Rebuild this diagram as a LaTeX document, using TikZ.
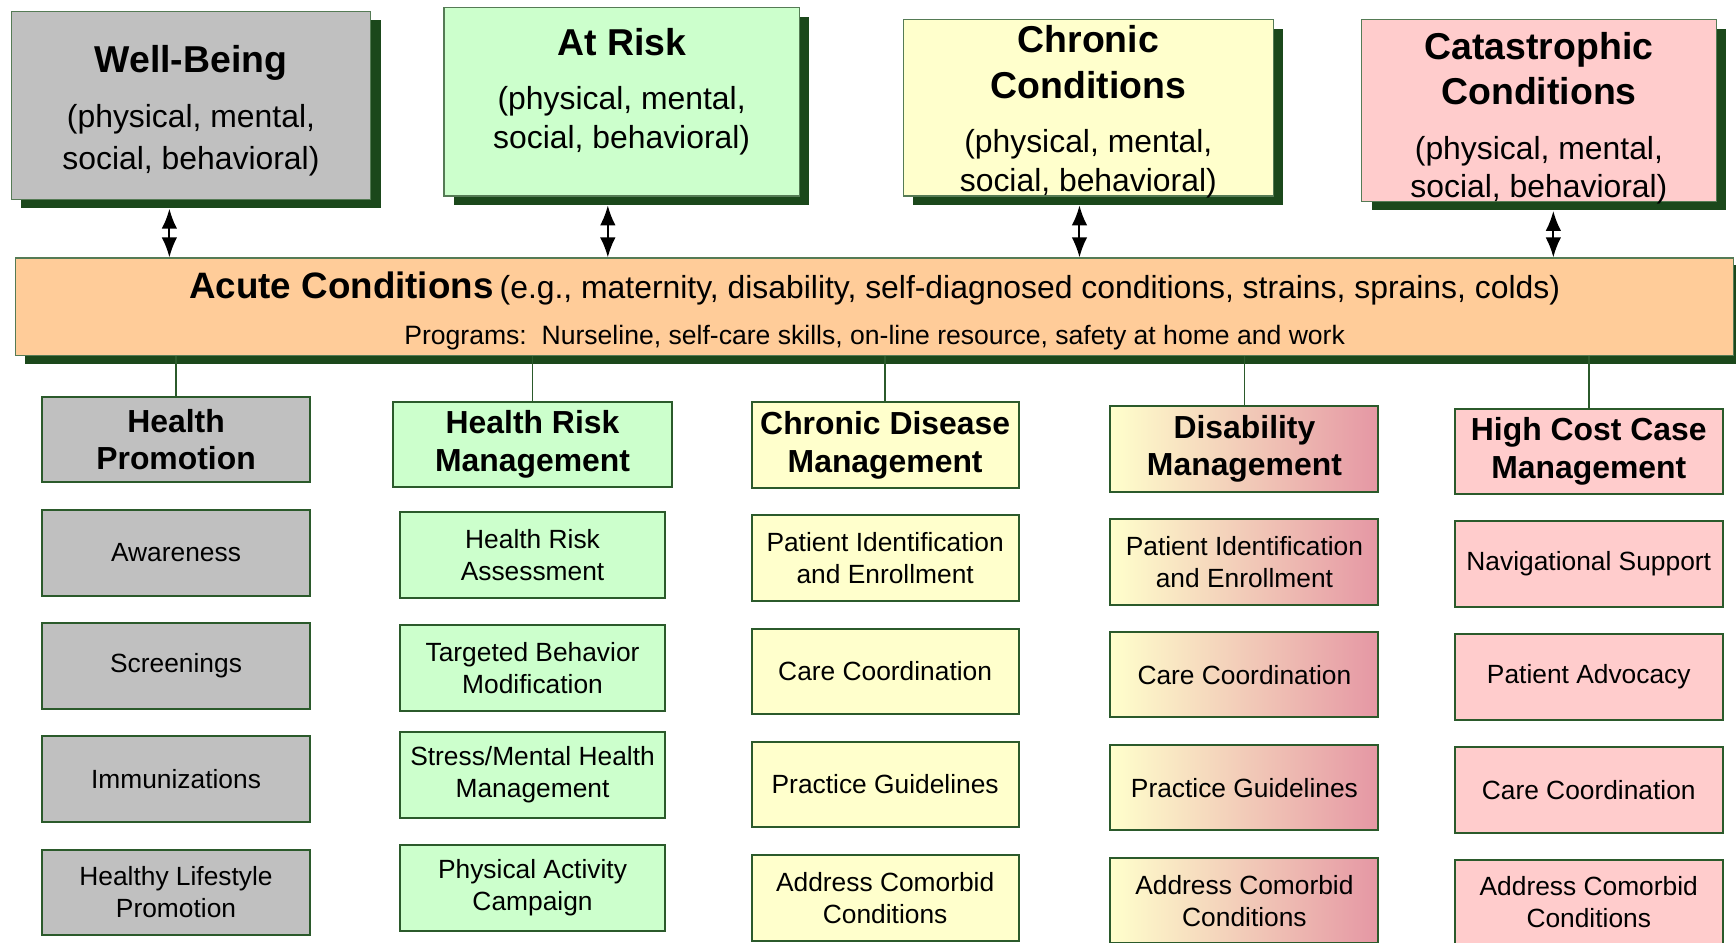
\documentclass[tikz,border=0pt]{standalone}
\usepackage{fontspec}
\setmainfont{Liberation Sans}
\usepackage{xcolor}
\usepackage{tikz}
\usetikzlibrary{arrows.meta, shadows}

\definecolor{wbgray}{HTML}{C0C0C0}
\definecolor{riskgreen}{HTML}{CCFFCC}
\definecolor{chronyellow}{HTML}{FFFFCC}
\definecolor{catpink}{HTML}{FFCCCC}
\definecolor{acutepeach}{HTML}{FFCC99}
\definecolor{disrose}{HTML}{E597A4}
\definecolor{edgegreen}{HTML}{2B5A2B}
\definecolor{shadowgreen}{HTML}{1B481B}

\newcommand{\condtitle}{\fontsize{16.9}{20}\selectfont\bfseries}

\begin{document}
\begin{tikzpicture}[x=0.5pt, y=-0.5pt,
		twoway/.style={{Latex[length=9pt, width=7pt]}-{Latex[length=9pt, width=7pt]}, line width=0.9pt},
		condbox/.style={draw=edgegreen!80, line width=0.5pt,
			drop shadow={shadow xshift=4.5pt, shadow yshift=-4pt, fill=shadowgreen, opacity=1}},
		condtext/.style={align=center, font=\fontsize{14.4}{17.5}\selectfont},
		colhead/.style={draw=edgegreen, line width=0.9pt, align=center, inner sep=0pt,
			minimum width=121pt, minimum height=38.5pt, font=\fontsize{14.4}{17}\selectfont\bfseries},
		progbox/.style={draw=edgegreen, line width=0.9pt, align=center, inner sep=0pt,
			minimum width=121pt, minimum height=38.5pt, font=\fontsize{11.9}{14.5}\selectfont},
		disgrad/.style={left color=chronyellow, right color=disrose},
		link/.style={draw=edgegreen, line width=0.7pt}]
	\useasboundingbox (0,0) rectangle (1568,851);

	% four condition levels
	\node[condbox, fill=wbgray, minimum width=162.5pt, minimum height=85pt] (wb) at (172.5,95) {};
	\node[condtext] (wb-text) at (172.5,100) {{\condtitle Well-Being}\\[7pt] (physical, mental,\\[1.5pt] social, behavioral)};
	\node[condbox, fill=riskgreen, minimum width=160.5pt, minimum height=85pt] (ar) at (561.5,92) {};
	\node[condtext] (ar-text) at (561.5,83) {{\condtitle At Risk}\\[7pt] (physical, mental,\\ social, behavioral)};
	\node[condbox, fill=chronyellow, minimum width=167pt, minimum height=79.5pt] (cc) at (983,97.5) {};
	\node[condtext] (cc-text) at (983,101) {{\condtitle Chronic}\\[3pt] {\condtitle Conditions}\\[7pt] (physical, mental,\\ social, behavioral)};
	\node[condbox, fill=catpink, minimum width=160pt, minimum height=82pt] (ca) at (1390,100) {};
	\node[condtext] (ca-text) at (1390,107) {{\condtitle Catastrophic}\\[3pt] {\condtitle Conditions}\\[7pt] (physical, mental,\\ social, behavioral)};

	% acute band
	\node[condbox, fill=acutepeach, minimum width=776pt, minimum height=44pt,
		drop shadow={shadow xshift=4.5pt, shadow yshift=-3.2pt, fill=shadowgreen, opacity=1}] (acute) at (790,277) {};
	\node[align=center] (acute-text) at (790,281)
		{{\fontsize{16.6}{20}\selectfont\bfseries Acute Conditions} {\fontsize{14.4}{17}\selectfont(e.g., maternity, disability, self-diagnosed conditions, strains, sprains, colds)}\\[9pt]
		{\fontsize{12}{14}\selectfont Programs:\ \ Nurseline, self-care skills, on-line resource, safety at home and work}};

	\draw[twoway] ([xshift=-9.75pt, yshift=-4pt]wb.south) -- ([xshift=-9.75pt]wb.south |- acute.north);
	\draw[twoway] ([xshift=-6.25pt, yshift=-4pt]ar.south) -- ([xshift=-6.25pt]ar.south |- acute.north);
	\draw[twoway] ([xshift=-4pt, yshift=-4pt]cc.south) -- ([xshift=-4pt]cc.south |- acute.north);
	\draw[twoway] ([xshift=6.5pt, yshift=-4pt]ca.south) -- ([xshift=6.5pt]ca.south |- acute.north);

	% programs
	\node[colhead, fill=wbgray] (hp) at (159,397) {Health\\ Promotion};
	\node[progbox, fill=wbgray] (hp1) at (159,499.5) {Awareness};
	\node[progbox, fill=wbgray] (hp2) at (159,601.5) {Screenings};
	\node[progbox, fill=wbgray] (hp3) at (159,703.5) {Immunizations};
	\node[progbox, fill=wbgray] (hp4) at (159,806) {Healthy Lifestyle\\ Promotion};

	\node[colhead, fill=riskgreen, minimum width=126pt] (hrm) at (481,401.5) {Health Risk\\ Management};
	\node[progbox, fill=riskgreen, minimum width=120pt, minimum height=39pt] (hrm1) at (481,501) {Health Risk\\ Assessment};
	\node[progbox, fill=riskgreen, minimum width=120pt, minimum height=39pt] (hrm2) at (481,603.5) {Targeted Behavior\\ Modification};
	\node[progbox, fill=riskgreen, minimum width=120pt, minimum height=39pt] (hrm3) at (481,700) {Stress/Mental Health\\ Management};
	\node[progbox, fill=riskgreen, minimum width=120pt, minimum height=39pt] (hrm4) at (481,802) {Physical Activity\\ Campaign};

	\node[colhead, fill=chronyellow, minimum width=120.5pt] (cdm) at (799.5,402) {Chronic Disease\\ Management};
	\node[progbox, fill=chronyellow, minimum width=120.5pt] (cdm1) at (799.5,504) {Patient Identification\\ and Enrollment};
	\node[progbox, fill=chronyellow, minimum width=120.5pt] (cdm2) at (799.5,606.5) {Care Coordination};
	\node[progbox, fill=chronyellow, minimum width=120.5pt] (cdm3) at (799.5,708.5) {Practice Guidelines};
	\node[progbox, fill=chronyellow, minimum width=120.5pt] (cdm4) at (799.5,811) {Address Comorbid\\ Conditions};

	\node[colhead, disgrad] (dm) at (1124,405.5) {Disability\\ Management};
	\node[progbox, disgrad] (dm1) at (1124,507.5) {Patient Identification\\ and Enrollment};
	\node[progbox, disgrad] (dm2) at (1124,609.5) {Care Coordination};
	\node[progbox, disgrad] (dm3) at (1124,711.5) {Practice Guidelines};
	\node[progbox, disgrad] (dm4) at (1124,813.5) {Address Comorbid\\ Conditions};

	\node[colhead, fill=catpink] (hcm) at (1435,407.5) {High Cost Case\\ Management};
	\node[progbox, fill=catpink] (hcm1) at (1435,509.5) {Navigational Support};
	\node[progbox, fill=catpink] (hcm2) at (1435,611.5) {Patient Advocacy};
	\node[progbox, fill=catpink] (hcm3) at (1435,713.5) {Care Coordination};
	\node[progbox, fill=catpink] (hcm4) at (1435,815) {Address Comorbid\\ Conditions};

	\draw[link] (hp.north |- acute.south) -- (hp.north);
	\draw[link] (hrm.north |- acute.south) -- (hrm.north);
	\draw[link] (cdm.north |- acute.south) -- (cdm.north);
	\draw[link] (dm.north |- acute.south) -- (dm.north);
	\draw[link] (hcm.north |- acute.south) -- (hcm.north);
\end{tikzpicture}
\end{document}
